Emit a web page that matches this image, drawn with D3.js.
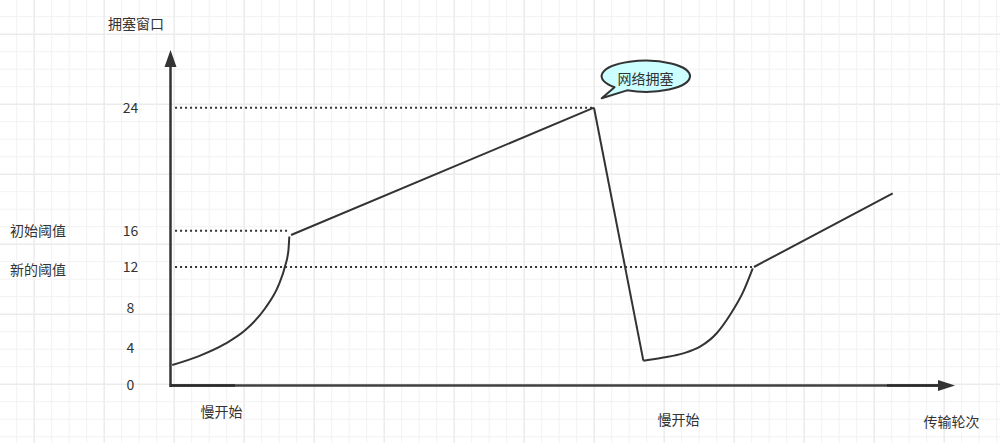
<!DOCTYPE html>
<html>
<head>
<meta charset="utf-8">
<script src="https://cdn.jsdelivr.net/npm/d3@7"></script>
<style>
	body { margin: 0; background: #fff; }
	svg text { font-family: "Noto Sans CJK SC", "Noto Sans", sans-serif; fill: #333; font-size: 14px; }
</style>
</head>
<body>
<svg id="chart" width="1000" height="443"></svg>
<script>
// tick values on the congestion window axis
var yTicks = [0, 4, 8, 12, 16, 24];
// dotted threshold lines: value, and the round where the curve meets it
var thresholdValues = [24, 16, 12];
var thresholdEnds = [24.1, 6.79, 33.27];
var thresholdNames = ["", "初始阈值", "新的阈值"];

// first slow start
var slowStart1Rounds = [0.1, 1.59, 3.11, 4.26, 5.4, 6.17, 6.55, 6.74, 6.79];
var slowStart1Cwnd = [2.19, 3.11, 4.41, 5.79, 8.0, 10.22, 12.11, 13.87, 15.36];
// congestion avoidance up to the loss
var avoid1Rounds = [6.89, 24.2];
var avoid1Cwnd = [15.53, 24];
// drop after the congestion
var dropRounds = [24.2, 27.02];
var dropCwnd = [24, 2.65];
// second slow start
var slowStart2Rounds = [27.02, 28.16, 29.3, 30.26, 31.21, 31.97, 32.73, 33.27];
var slowStart2Cwnd = [2.65, 2.99, 3.43, 4.13, 5.49, 7.34, 9.62, 11.86];
// congestion avoidance again
var avoid2Rounds = [33.34, 41.27];
var avoid2Cwnd = [12.0, 18.43];

var svg = d3.select("#chart");
var width = 1000, height = 443;
var lineColor = "#333";

// background grid (minor every 17.5px, major every 4th)
var grid = svg.append("g");
var gridStep = 17.5, gridStart = 16.7;
for (var k = 0; gridStart + k * gridStep < width; k++) {
	var p = gridStart + k * gridStep;
	var major = (k % 4) == 1;
	grid.append("line")
		.attr("x1", p).attr("x2", p).attr("y1", 0).attr("y2", height)
		.attr("stroke", major ? "#ebebeb" : "#f2f2f2")
		.attr("stroke-width", major ? 1.5 : 1);
	if (p < height) {
		grid.append("line")
			.attr("y1", p).attr("y2", p).attr("x1", 0).attr("x2", width)
			.attr("stroke", major ? "#ebebeb" : "#f2f2f2")
			.attr("stroke-width", major ? 1.5 : 1);
	}
}

// scales: the sketch spaces its ticks unevenly, so the y scale is piecewise
var x = d3.scaleLinear().domain([0, 45]).range([170.5, 958]);
var y = d3.scaleLinear().domain(yTicks).range([385.5, 348, 308.5, 267, 230.7, 107.7]);

// dotted threshold lines
thresholdValues.forEach(function(v, i) {
	svg.append("line")
		.attr("x1", x(0.26)).attr("x2", x(thresholdEnds[i]))
		.attr("y1", y(v)).attr("y2", y(v))
		.attr("stroke", lineColor)
		.attr("stroke-width", 2)
		.attr("stroke-dasharray", "2,3");
	if (thresholdNames[i] != "") {
		svg.append("text")
			.attr("x", 38).attr("y", y(v) + (v == 12 ? 3 : 0))
			.attr("dy", "0.35em")
			.attr("text-anchor", "middle")
			.text(thresholdNames[i]);
	}
});

// tick labels through a left axis with no tick marks
var yAxis = svg.append("g")
	.attr("transform", "translate(" + x(0) + ",0)")
	.call(d3.axisLeft(y).tickValues(yTicks).tickSize(0).tickPadding(40));
yAxis.select(".domain").remove();
yAxis.selectAll("text")
	.attr("text-anchor", "middle")
	.attr("font-size", null)
	.attr("font-family", null)
	.attr("fill", null);

// axis lines with arrows
var axisY0 = y(0);
svg.append("line")
	.attr("x1", x(0)).attr("x2", x(0)).attr("y1", axisY0 + 1.5).attr("y2", 66)
	.attr("stroke", lineColor).attr("stroke-width", 2.5);
svg.append("path")
	.attr("d", "M" + x(0) + ",50 L" + (x(0) - 6) + ",67 L" + (x(0) + 6) + ",67 Z")
	.attr("fill", lineColor);
svg.append("line")
	.attr("x1", x(0) - 1).attr("x2", 939).attr("y1", axisY0).attr("y2", axisY0)
	.attr("stroke", "#404040").attr("stroke-width", 2.5);
// overlapping strokes in the original make these pieces darker
svg.append("line")
	.attr("x1", x(0)).attr("x2", 235).attr("y1", axisY0).attr("y2", axisY0)
	.attr("stroke", "#2a2a2a").attr("stroke-width", 2.5);
svg.append("line")
	.attr("x1", 887).attr("x2", 939).attr("y1", axisY0).attr("y2", axisY0)
	.attr("stroke", "#2a2a2a").attr("stroke-width", 2.5);
svg.append("path")
	.attr("d", "M955," + axisY0 + " L938," + (axisY0 - 5.5) + " L938," + (axisY0 + 5.5) + " Z")
	.attr("fill", lineColor);

// the congestion window curve, piece by piece
function toPoints(rounds, cwnd) {
	return rounds.map(function(r, i) { return [r, cwnd[i]]; });
}
var curved = d3.line().x(function(d) { return x(d[0]); }).y(function(d) { return y(d[1]); })
	.curve(d3.curveMonotoneX);
var straight = d3.line().x(function(d) { return x(d[0]); }).y(function(d) { return y(d[1]); });

var pieces = [
	[toPoints(slowStart1Rounds, slowStart1Cwnd), curved],
	[toPoints(avoid1Rounds, avoid1Cwnd), straight],
	[toPoints(dropRounds, dropCwnd), straight],
	[toPoints(slowStart2Rounds, slowStart2Cwnd), curved],
	[toPoints(avoid2Rounds, avoid2Cwnd), straight]
];
pieces.forEach(function(piece) {
	svg.append("path")
		.attr("d", piece[1](piece[0]))
		.attr("fill", "none")
		.attr("stroke", lineColor)
		.attr("stroke-width", 2)
		.attr("stroke-linejoin", "round");
});

// speech bubble for the congestion point
var cx = 645.8, cy = 76.2, rx = 44.2, ry = 15.6;
var a1 = 135 * Math.PI / 180, a2 = 115 * Math.PI / 180;
var p1 = [cx + rx * Math.cos(a1), cy + ry * Math.sin(a1)];
var p2 = [cx + rx * Math.cos(a2), cy + ry * Math.sin(a2)];
svg.append("path")
	.attr("d", "M" + p2[0] + "," + p2[1] +
		" A" + rx + "," + ry + " 0 1 0 " + p1[0] + "," + p1[1] +
		" L601.7,98.3 Z")
	.attr("fill", "#ccffff")
	.attr("stroke", lineColor)
	.attr("stroke-width", 2)
	.attr("stroke-linejoin", "round");
svg.append("text")
	.attr("x", 645.5).attr("y", 79)
	.attr("dy", "0.35em")
	.attr("text-anchor", "middle")
	.text("网络拥塞");

// titles and annotations
var notes = [
	["拥塞窗口", 136, 24],
	["慢开始", 221.5, 412],
	["慢开始", 678.5, 420],
	["传输轮次", 951.5, 422.5]
];
notes.forEach(function(n) {
	svg.append("text")
		.attr("x", n[1]).attr("y", n[2])
		.attr("dy", "0.35em")
		.attr("text-anchor", "middle")
		.text(n[0]);
});
</script>
</body>
</html>
